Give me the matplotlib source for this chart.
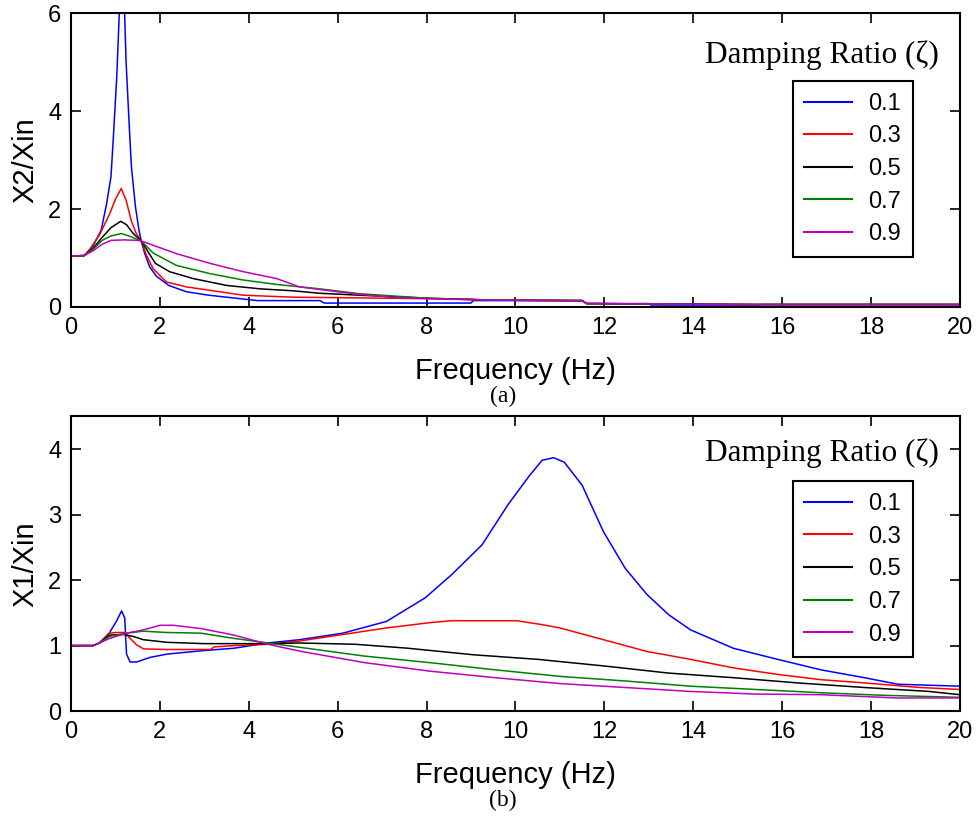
import matplotlib
matplotlib.use("Agg")
import matplotlib.pyplot as plt

# ---------------- data: (a) X2/Xin ----------------
labels = ["0.1", "0.3", "0.5", "0.7", "0.9"]
colors = ["#0000ff", "#ff0000", "#000000", "#008000", "#c000c0"]

fa_01 = [0, 0.3, 0.5, 0.68, 0.8, 0.9, 0.95, 1.03, 1.1, 1.15, 1.2, 1.24, 1.32, 1.36, 1.45, 1.53, 1.58,
         1.66, 1.77, 1.92, 2.2, 2.6, 3.1, 3.6, 4.2, 5.6, 5.7, 9.0, 9.05, 11.5, 11.6, 13.0, 13.05, 15.5, 15.55, 20]
x2_01 = [1.04, 1.05, 1.25, 1.57, 2.1, 2.66, 3.41, 4.7, 6.3, 6.4, 6.2, 5.0, 3.54, 2.86, 2.05, 1.57, 1.35,
         1.09, 0.82, 0.63, 0.44, 0.31, 0.24, 0.19, 0.13, 0.13, 0.08, 0.08, 0.13, 0.13, 0.07, 0.07, 0.04, 0.04, 0.05, 0.05]

fa_03 = [0, 0.3, 0.41, 0.64, 0.87, 1.0, 1.13, 1.24, 1.36, 1.47, 1.58, 1.7, 1.85, 2.15, 2.6, 3.13, 3.88,
         5.0, 6.0, 7.0, 8.0, 9.0, 9.4, 11.5, 11.6, 15.5, 20]
x2_03 = [1.04, 1.05, 1.16, 1.47, 1.9, 2.2, 2.42, 2.18, 1.75, 1.5, 1.35, 1.05, 0.78, 0.51, 0.41, 0.34, 0.24,
         0.2, 0.19, 0.18, 0.17, 0.16, 0.14, 0.13, 0.07, 0.05, 0.05]

fa_05 = [0, 0.3, 0.5, 0.7, 0.9, 1.12, 1.25, 1.4, 1.58, 1.9, 2.22, 2.75, 3.5, 4.26, 5.0, 5.6, 6.5, 8.0,
         9.4, 11.5, 11.6, 15.5, 20]
x2_05 = [1.04, 1.05, 1.2, 1.42, 1.62, 1.75, 1.68, 1.5, 1.35, 0.89, 0.72, 0.58, 0.44, 0.37, 0.33, 0.28, 0.24, 0.18,
         0.14, 0.13, 0.07, 0.05, 0.05]

fa_07 = [0, 0.3, 0.5, 0.7, 0.9, 1.13, 1.3, 1.58, 1.85, 2.37, 3.13, 3.88, 4.63, 5.6, 6.5, 8.0, 9.4, 11.5,
         11.6, 15.5, 20]
x2_07 = [1.04, 1.05, 1.18, 1.36, 1.45, 1.5, 1.45, 1.35, 1.1, 0.85, 0.68, 0.55, 0.46, 0.37, 0.27, 0.18, 0.14, 0.13,
         0.07, 0.05, 0.05]

fa_09 = [0, 0.3, 0.5, 0.7, 0.9, 1.2, 1.5, 1.58, 1.85, 2.37, 3.13, 3.88, 4.63, 5.14, 6.0, 6.6, 7.3, 8.5,
         9.4, 11.5, 11.6, 15.5, 20]
x2_09 = [1.04, 1.05, 1.15, 1.28, 1.36, 1.37, 1.36, 1.35, 1.26, 1.09, 0.89, 0.72, 0.58, 0.41, 0.31, 0.25, 0.19, 0.16,
         0.14, 0.13, 0.07, 0.05, 0.05]

# ---------------- data: (b) X1/Xin ----------------
fb_01 = [0, 0.5, 0.64, 0.87, 1.02, 1.14, 1.21, 1.25, 1.33, 1.48, 1.78, 2.16, 2.92, 3.67, 4.43, 5.14, 6.12,
         7.1, 7.97, 8.56, 9.25, 9.83, 10.32, 10.6, 10.86, 11.1, 11.5, 11.98, 12.47, 12.96, 13.45, 13.94,
         14.9, 15.9, 16.87, 17.85, 18.6, 20]
x1_01 = [1.0, 1.0, 1.04, 1.2, 1.37, 1.53, 1.42, 0.87, 0.75, 0.75, 0.82, 0.87, 0.92, 0.96, 1.04, 1.09, 1.19,
         1.37, 1.73, 2.08, 2.54, 3.15, 3.6, 3.83, 3.87, 3.8, 3.45, 2.74, 2.18, 1.78, 1.47, 1.24,
         0.96, 0.79, 0.63, 0.51, 0.41, 0.38]

fb_03 = [0, 0.5, 0.64, 0.87, 1.02, 1.21, 1.33, 1.48, 1.63, 2.16, 3.14, 3.22, 3.67, 4.43, 5.14, 6.12, 7.1,
         8.07, 8.56, 10.03, 10.6, 11.0, 11.98, 12.96, 13.94, 14.9, 15.9, 16.87, 17.85, 19.1, 20]
x1_03 = [1.0, 1.0, 1.04, 1.19, 1.2, 1.2, 1.11, 1.01, 0.95, 0.94, 0.94, 0.98, 1.0, 1.02, 1.07, 1.17, 1.27,
         1.35, 1.38, 1.38, 1.32, 1.27, 1.09, 0.91, 0.79, 0.66, 0.56, 0.48, 0.43, 0.36, 0.33]

fb_05 = [0, 0.5, 0.64, 0.87, 1.17, 1.4, 1.63, 2.16, 3.0, 4.43, 5.14, 6.4, 7.58, 9.05, 10.5, 11.98, 13.45,
         14.9, 16.35, 17.85, 19.3, 20]
x1_05 = [1.0, 1.0, 1.04, 1.16, 1.17, 1.14, 1.09, 1.05, 1.03, 1.03, 1.04, 1.02, 0.96, 0.86, 0.79, 0.69, 0.58,
         0.51, 0.43, 0.36, 0.3, 0.25]

fb_07 = [0, 0.5, 0.64, 0.87, 1.25, 1.63, 2.16, 2.92, 3.67, 4.43, 5.19, 6.6, 8.07, 9.54, 11.0, 12.47, 13.94,
         15.4, 16.87, 18.3, 20]
x1_07 = [1.0, 1.0, 1.04, 1.14, 1.19, 1.22, 1.2, 1.19, 1.11, 1.04, 0.97, 0.84, 0.74, 0.63, 0.53, 0.46, 0.38,
         0.33, 0.28, 0.24, 0.21]

fb_09 = [0, 0.5, 0.64, 0.87, 1.25, 1.63, 2.0, 2.31, 2.92, 3.3, 3.67, 4.43, 5.19, 6.6, 8.07, 9.54, 11.0,
         12.47, 13.94, 15.4, 16.87, 18.6, 20]
x1_09 = [1.0, 1.0, 1.04, 1.11, 1.19, 1.24, 1.31, 1.31, 1.26, 1.21, 1.16, 1.02, 0.91, 0.74, 0.61, 0.51, 0.42,
         0.36, 0.3, 0.26, 0.25, 0.2, 0.2]

xticks = [0, 2, 4, 6, 8, 10, 12, 14, 16, 18, 20]
yticks_a = [0, 2, 4, 6]
yticks_b = [0, 1, 2, 3, 4]
legend_title = "Damping Ratio (\u03b6)"

# ---------------- figure ----------------
plt.rcParams['font.family'] = ['Liberation Sans', 'DejaVu Sans']
fig = plt.figure(figsize=(9.79, 8.23), dpi=100)
ax_a = fig.add_axes([0.0725, 0.627, 0.908, 0.357])
ax_b = fig.add_axes([0.0725, 0.136, 0.908, 0.358])

series_a = [(fa_01, x2_01), (fa_03, x2_03), (fa_05, x2_05), (fa_07, x2_07), (fa_09, x2_09)]
series_b = [(fb_01, x1_01), (fb_03, x1_03), (fb_05, x1_05), (fb_07, x1_07), (fb_09, x1_09)]


def style(ax, ylim, yticks, ylabel, leg_top, title_y):
    ax.set_xlim(0, 20)
    ax.set_ylim(*ylim)
    ax.set_xticks(xticks)
    ax.set_yticks(yticks)
    ax.tick_params(direction='in', length=7, width=1.2, top=True, right=True,
                   labelsize=17, pad=7)
    for s in ax.spines.values():
        s.set_linewidth(1.5)
    ax.set_xlabel("Frequency (Hz)", fontsize=21, labelpad=13)
    ax.set_ylabel(ylabel, fontsize=21, labelpad=6)
    leg = ax.legend(loc='upper right', bbox_to_anchor=(0.947, leg_top), fontsize=17,
                    frameon=True, fancybox=False, edgecolor='black', framealpha=1,
                    handlelength=2.0, handletextpad=0.7, labelspacing=0.45,
                    borderpad=0.5, borderaxespad=0)
    leg.get_frame().set_linewidth(1.5)
    for ln in leg.get_lines():
        ln.set_linewidth(1.5)
    ax.text(0.845, title_y, legend_title, transform=ax.transAxes, ha='center', va='center',
            fontsize=22.5, family=['Liberation Serif', 'DejaVu Serif'])


for (f, v), c, lab in zip(series_a, colors, labels):
    ax_a.plot(f, v, color=c, lw=1.1, label=lab)
for (f, v), c, lab in zip(series_b, colors, labels):
    ax_b.plot(f, v, color=c, lw=1.1, label=lab)

style(ax_a, (0, 6), yticks_a, "X2/Xin", 0.769, 0.857)
style(ax_b, (0, 4.5), yticks_b, "X1/Xin", 0.78, 0.875)

fig.text(0.514, 0.518, "(a)", ha='center', va='center', fontsize=17,
         family=['Liberation Serif', 'DejaVu Serif'])
fig.text(0.514, 0.027, "(b)", ha='center', va='center', fontsize=17,
         family=['Liberation Serif', 'DejaVu Serif'])

fig.savefig("out.png", dpi=100)
